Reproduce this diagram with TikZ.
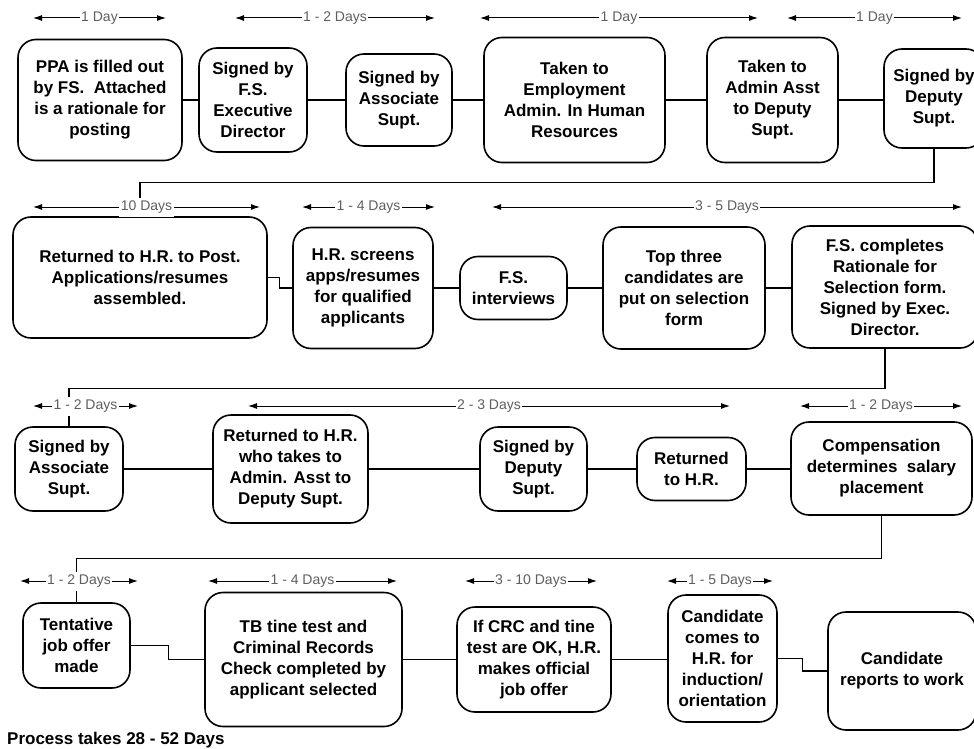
\documentclass[tikz,border=0pt]{standalone}
\usepackage{fontspec}
\setmainfont{Liberation Sans}
\usetikzlibrary{arrows.meta}
\definecolor{labelgray}{RGB}{95,95,95}
\newcommand\duration[4]{%
  \coordinate (d-#4-a) at (#1,#3);
  \coordinate (d-#4-b) at (#2,#3);
  \draw[durline] (d-#4-a) -- node[durlabel] {\strut#4} (d-#4-b);}
\begin{document}
\begin{tikzpicture}[x=1pt,y=-1pt,
  stepbox/.style={draw=black, line width=1.6pt, rounded corners=18pt,
    align=center, inner sep=0pt,
    font=\bfseries\fontsize{17}{21}\selectfont},
  link/.style={line width=1.3pt},
  durline/.style={line width=1pt,
    {Latex[length=9pt,width=6pt]}-{Latex[length=9pt,width=6pt]}},
  durlabel/.style={fill=white, inner sep=1.5pt, text=labelgray,
    font=\fontsize{14}{16}\selectfont}]
\useasboundingbox (0,0) rectangle (974,749);
\clip (0,0) rectangle (974,749);

% ---- row 1
\node[stepbox, minimum width=164pt, minimum height=121pt] (ppa) at (100,100)
  {PPA is filled out\\by FS.\ \ Attached\\is a rationale for\\posting};
\node[stepbox, minimum width=108pt, minimum height=104pt] (fsexec) at (253,100)
  {Signed by\\F.S.\\Executive\\Director};
\node[stepbox, minimum width=106pt, minimum height=92pt] (assoc1) at (399,100)
  {Signed by\\Associate\\Supt.};
\node[stepbox, minimum width=181pt, minimum height=125pt] (employ) at (574.5,100)
  {Taken to\\Employment\\Admin. In Human\\Resources};
\node[stepbox, minimum width=131pt, minimum height=125pt] (adminasst) at (772.5,100)
  {Taken to\\Admin Asst\\to Deputy\\Supt.};
\node[stepbox, minimum width=100pt, minimum height=99pt] (deputy1) at (934,98.5)
  {Signed by\\Deputy\\Supt.};

% ---- row 2
\node[stepbox, minimum width=254pt, minimum height=121pt] (post) at (140,277.5)
  {Returned to H.R. to Post.\\Applications/resumes\\assembled.};
\node[stepbox, minimum width=140pt, minimum height=121pt] (screens) at (363,288)
  {H.R. screens\\apps/resumes\\for qualified\\applicants};
\node[stepbox, minimum width=107pt, minimum height=63pt] (interv) at (513.5,288)
  {F.S.\\interviews};
\node[stepbox, minimum width=162pt, minimum height=122pt] (topthree) at (684,288)
  {Top three\\candidates are\\put on selection\\form};
\node[stepbox, minimum width=186pt, minimum height=122pt] (fscomp) at (885,287)
  {F.S. completes\\Rationale for\\Selection form.\\Signed by Exec.\\Director.};

% ---- row 3
\node[stepbox, minimum width=108pt, minimum height=84pt] (assoc2) at (69,469)
  {Signed by\\Associate\\Supt.};
\node[stepbox, minimum width=155pt, minimum height=108pt] (retadmin) at (290.5,469)
  {Returned to H.R.\\who takes to\\Admin. Asst to\\Deputy Supt.};
\node[stepbox, minimum width=107pt, minimum height=84pt] (deputy2) at (533.5,469)
  {Signed by\\Deputy\\Supt.};
\node[stepbox, minimum width=109pt, minimum height=63pt] (rethr) at (691.5,469)
  {Returned\\to H.R.};
\node[stepbox, minimum width=181pt, minimum height=93pt] (comp) at (881.5,468.5)
  {Compensation\\determines\ \ salary\\placement};

% ---- row 4
\node[stepbox, minimum width=107pt, minimum height=85pt] (tent) at (76.5,645.5)
  {Tentative\\job offer\\made};
\node[stepbox, minimum width=197pt, minimum height=134pt] (tb) at (303.5,659.5)
  {TB tine test and\\Criminal Records\\Check completed by\\applicant selected};
\node[stepbox, minimum width=154pt, minimum height=105pt] (crc) at (534,659.5)
  {If CRC and tine\\test are OK, H.R.\\makes official\\job offer};
\node[stepbox, minimum width=109pt, minimum height=127pt] (cand) at (722.5,658.5)
  {Candidate\\comes to\\H.R. for\\induction/\\orientation};
\node[stepbox, minimum width=148pt, minimum height=118pt] (reports) at (902,671)
  {Candidate\\reports to work};

\node[anchor=base west, inner sep=0pt, font=\bfseries\fontsize{17}{21}\selectfont]
  (total) at (7,744.5) {Process takes 28 - 52 Days};

% ---- connectors
\draw[link] (ppa.east) -- (ppa.east -| fsexec.west);
\draw[link] (fsexec.east) -- (fsexec.east -| assoc1.west);
\draw[link] (assoc1.east) -- (assoc1.east -| employ.west);
\draw[link] (employ.east) -- (employ.east -| adminasst.west);
\draw[link] (adminasst.east) -- (adminasst.east -| deputy1.west);
\draw[link] (deputy1.south) -- ++(0,34) -| (post.north);

\draw[link] (post.east) -- ++(12,0) |- (screens.west);
\draw[link] (screens.east) -- (screens.east -| interv.west);
\draw[link] (interv.east) -- (interv.east -| topthree.west);
\draw[link] (topthree.east) -- (topthree.east -| fscomp.west);
\draw[link] (fscomp.south) -- ++(0,40) -| (assoc2.north);

\draw[link] (assoc2.east) -- (assoc2.east -| retadmin.west);
\draw[link] (retadmin.east) -- (retadmin.east -| deputy2.west);
\draw[link] (deputy2.east) -- (deputy2.east -| rethr.west);
\draw[link] (rethr.east) -- (rethr.east -| comp.west);
\draw[link] (comp.south) -- ++(0,43) -| (tent.north);

\draw[link] (tent.east) -- ++(38,0) |- (tb.west);
\draw[link] (tb.east) -- (tb.east -| crc.west);
\draw[link] (crc.east) -- (crc.east -| cand.west);
\draw[link] (cand.east) -- ++(25,0) |- (reports.west);

% ---- durations
\duration{33}{166}{18}{1 Day}
\duration{235}{435}{18}{1 - 2 Days}
\duration{480}{758}{18}{1 Day }
\duration{787}{962}{18}{1 Day  }
\duration{33}{260}{207}{10 Days}
\duration{302}{435}{207}{1 - 4 Days}
\duration{492}{962}{207}{3 - 5 Days}
\duration{33}{138}{406}{1 - 2 Days }
\duration{248}{730}{406}{2 - 3 Days}
\duration{800}{962}{406}{1 - 2 Days  }
\duration{20}{138}{581}{1 - 2 Days   }
\duration{208}{397}{581}{1 - 4 Days }
\duration{465}{597}{581}{3 - 10 Days}
\duration{667}{773}{581}{1 - 5 Days}
\end{tikzpicture}
\end{document}
